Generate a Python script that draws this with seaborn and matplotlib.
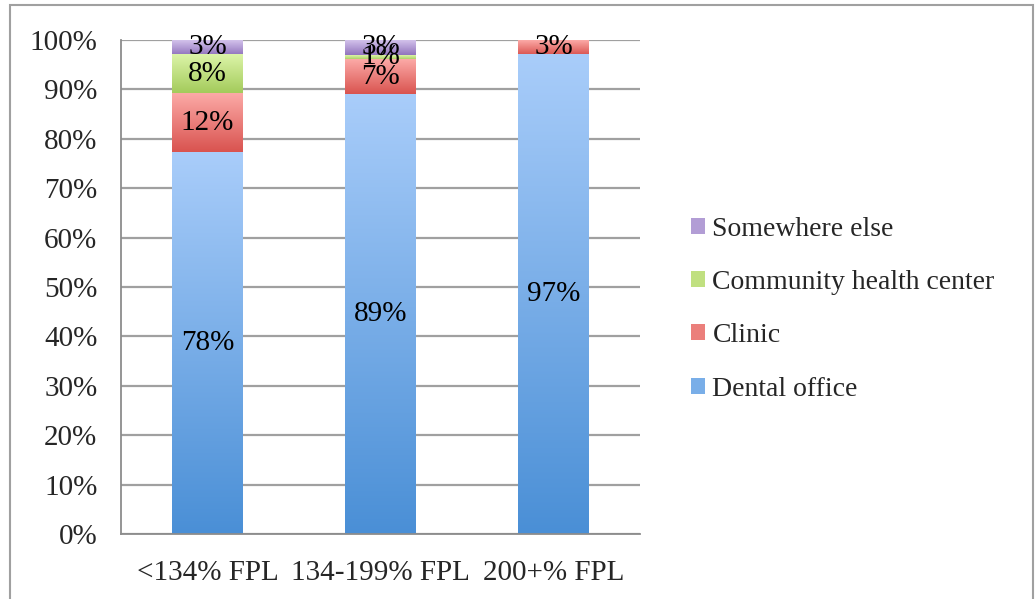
import numpy as np
import pandas as pd
import matplotlib
matplotlib.use("Agg")
import matplotlib.pyplot as plt
import seaborn as sns
from matplotlib.colors import LinearSegmentedColormap
from matplotlib.patches import Patch, Rectangle

# data (percent of each income group)
groups = ["<134% FPL", "134-199% FPL", "200+% FPL"]
dental_office = [78, 89, 97]
clinic = [12, 7, 3]
community_health = [8, 1, 0]
somewhere_else = [3, 3, 0]

series = ["Dental office", "Clinic", "Community health center", "Somewhere else"]
top_colors = ["#a9cdfa", "#fcaaa7", "#dcf4a8", "#d3c2eb"]
bottom_colors = ["#4a8fd6", "#d9534f", "#a2ca59", "#9174bd"]

df = pd.DataFrame({"group": groups,
                   "Dental office": dental_office,
                   "Clinic": clinic,
                   "Community health center": community_health,
                   "Somewhere else": somewhere_else})

# 100% stacked, like excel does it
vals = df[series].to_numpy(dtype=float)
shares = vals / vals.sum(axis=1, keepdims=True) * 100
cum = np.cumsum(shares, axis=1)

sns.set_style("white")
plt.rcParams["font.family"] = ["Liberation Serif", "DejaVu Serif"]
FS = 21

fig = plt.figure(figsize=(10.35, 5.99), dpi=100)
ax = fig.add_axes([121 / 1035, 1 - 534 / 599, 519 / 1035, 494 / 599])

grad = np.linspace(0, 1, 256).reshape(-1, 1)

# draw from the tallest cumulative layer down so each segment shows
for k in range(len(series) - 1, -1, -1):
    n_before = len(ax.patches)
    sns.barplot(x=df["group"], y=cum[:, k], order=groups, width=0.405,
                color=top_colors[k], ax=ax, zorder=2)
    cmap = LinearSegmentedColormap.from_list(series[k], [bottom_colors[k], top_colors[k]])
    for i, patch in enumerate(ax.patches[n_before:]):
        patch.set_facecolor("none")
        patch.set_edgecolor("none")
        lo = cum[i, k - 1] if k > 0 else 0.0
        hi = cum[i, k]
        if hi - lo <= 0:
            continue
        x0 = patch.get_x()
        ax.imshow(grad, cmap=cmap, origin="lower", aspect="auto",
                  extent=(x0, x0 + patch.get_width(), lo, hi), zorder=2)
        ax.text(x0 + patch.get_width() / 2, (lo + hi) / 2, f"{int(vals[i, k])}%",
                ha="center", va="center", fontsize=FS, color="black", zorder=5)

ax.set_xlim(-0.5, 2.5)
ax.set_ylim(0, 100)
ax.set_yticks(np.arange(0, 101, 10))
ax.set_yticklabels([f"{t}%" for t in range(0, 101, 10)])
ax.set_xticks([0, 1, 2])
ax.set_xticklabels(groups)
ax.set_xticks([-0.5, 0.5, 1.5, 2.5], minor=True)
ax.tick_params(axis="x", which="major", length=0, pad=19, labelsize=FS)
ax.tick_params(axis="x", which="minor", length=6, width=1.3, color="#8c8c8c", direction="out")
ax.tick_params(axis="y", length=6, width=1.3, color="#8c8c8c", direction="out", pad=11, labelsize=FS)
ax.set_xlabel("")
ax.set_ylabel("")

ax.set_axisbelow(True)
ax.yaxis.grid(True, color="#a0a0a0", linewidth=1.6)
ax.xaxis.grid(False)
for side in ["top", "right"]:
    ax.spines[side].set_visible(False)
for side in ["left", "bottom"]:
    ax.spines[side].set_color("#8c8c8c")
    ax.spines[side].set_linewidth(1.3)

# legend, top entry first
mid_colors = ["#79aee8", "#eb7f7b", "#c0e080", "#b29dd5"]
handles = [Patch(facecolor=mid_colors[k], edgecolor="none", label=series[k])
           for k in range(len(series) - 1, -1, -1)]
fig.legend(handles=handles, loc="center left", bbox_to_anchor=(666 / 1035, 1 - 309 / 599),
           frameon=False, fontsize=20, handlelength=0.52, handleheight=0.52,
           handletextpad=0.25, labelspacing=1.02)

# outer chart frame
fig.add_artist(Rectangle((10 / 1035, -0.01), 1023 / 1035, 1.01 - 5 / 599,
                         transform=fig.transFigure, fill=False,
                         edgecolor="#a0a0a0", linewidth=1.5))

fig.savefig("out.png", dpi=100)
